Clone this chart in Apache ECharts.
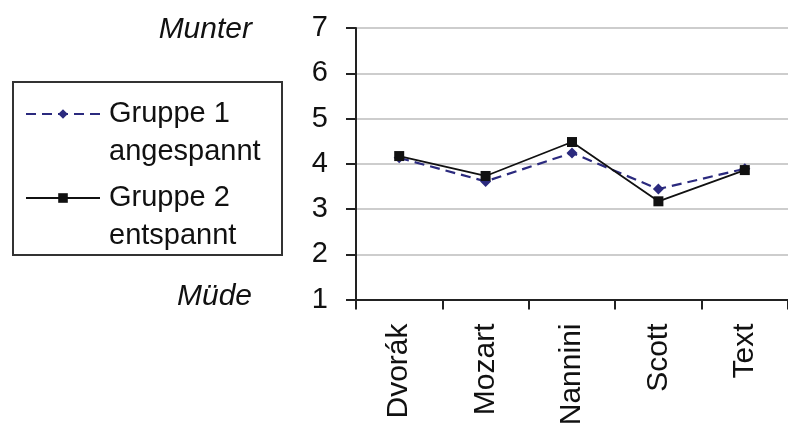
<!DOCTYPE html>
<html>
<head>
<meta charset="utf-8">
<script src="https://cdn.jsdelivr.net/npm/echarts@6/dist/echarts.min.js"></script>
<style>html,body{margin:0;padding:0;background:#fff;}#c{width:788px;height:430px;}</style>
</head>
<body>
<div id="c"></div>
<script>
const categories = ['Dvorák', 'Mozart', 'Nannini', 'Scott', 'Text'];
const gruppe1 = [4.13, 3.61, 4.24, 3.44, 3.89];
const gruppe2 = [4.17, 3.73, 4.48, 3.17, 3.86];
const yTicks = [1, 2, 3, 4, 5, 6, 7];
const name1 = 'Gruppe 1\nangespannt';
const name2 = 'Gruppe 2\nentspannt';
const topLabel = 'Munter';
const bottomLabel = 'Müde';

const FONT = 'Liberation Sans, Arial, sans-serif';
const chart = echarts.init(document.getElementById('c'), null, {renderer: 'canvas'});
const legendText = {fontFamily: FONT, fontSize: 29, color: '#111', lineHeight: 38, padding: [0, 0, 0, 4]};
const legendFmt = n => '\n' + n;
chart.setOption({
  backgroundColor: '#fff',
  animation: false,
  grid: {left: 356, top: 28, width: 435, bottom: 130.5, containLabel: false},
  xAxis: {
    type: 'category', data: categories, boundaryGap: true,
    axisLine: {lineStyle: {color: '#222', width: 2}},
    axisTick: {show: true, length: 10, inside: false, lineStyle: {color: '#222', width: 2}},
    axisLabel: {rotate: 90, margin: 24, fontFamily: FONT, fontSize: 30, color: '#111', interval: 0}
  },
  yAxis: {
    type: 'value', min: yTicks[0], max: yTicks[yTicks.length - 1], interval: 1,
    axisLine: {show: true, lineStyle: {color: '#222', width: 2}},
    axisTick: {show: true, length: 10, lineStyle: {color: '#222', width: 2}},
    axisLabel: {margin: 28, fontFamily: FONT, fontSize: 29, color: '#111'},
    splitLine: {show: true, lineStyle: {color: '#bdbdbd', width: 1.5}}
  },
  legend: [
    {data: [name1], orient: 'vertical', left: 25, top: 57, padding: 0, itemWidth: 74, itemHeight: 12, formatter: legendFmt, textStyle: legendText},
    {data: [name2], orient: 'vertical', left: 25, top: 141, padding: 0, itemWidth: 74, itemHeight: 12, formatter: legendFmt, textStyle: legendText}
  ],
  graphic: [
    {type: 'rect', shape: {x: 13, y: 82, width: 269, height: 173}, style: {fill: 'none', stroke: '#333', lineWidth: 2}},
    {type: 'text', x: 252, y: 30, style: {text: topLabel, font: 'italic 30px ' + FONT, fill: '#111', align: 'right', verticalAlign: 'middle'}},
    {type: 'text', x: 252, y: 297, style: {text: bottomLabel, font: 'italic 30px ' + FONT, fill: '#111', align: 'right', verticalAlign: 'middle'}}
  ],
  series: [
    {name: name1, type: 'line', data: gruppe1, symbol: 'diamond', symbolSize: 11,
     lineStyle: {color: '#2b2a7e', width: 2.2, type: [10, 6]}, itemStyle: {color: '#2b2a7e'}, z: 2},
    {name: name2, type: 'line', data: gruppe2, symbol: 'rect', symbolSize: 10,
     lineStyle: {color: '#111', width: 1.8, type: 'solid'}, itemStyle: {color: '#111'}, z: 3}
  ]
});
</script>
</body>
</html>
